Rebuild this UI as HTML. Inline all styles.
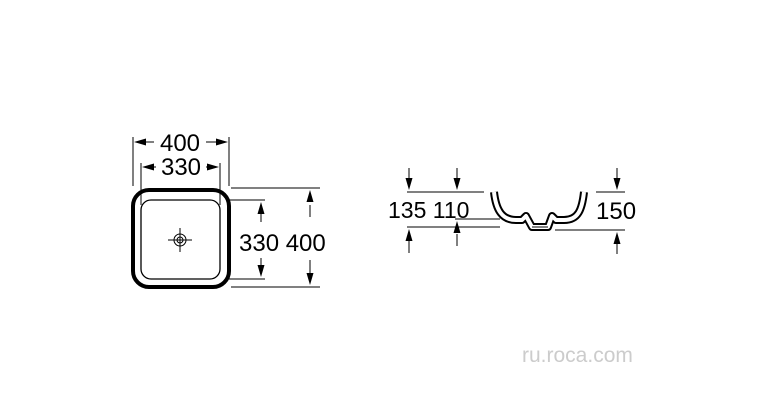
<!DOCTYPE html>
<html><head><style>
body{margin:0;background:#fff;width:761px;height:415px;overflow:hidden}
</style></head><body>
<svg width="761" height="415" xmlns="http://www.w3.org/2000/svg" font-family="Liberation Sans, sans-serif">
<g stroke="#000" stroke-width="1" fill="none">
<!-- top view -->
<rect x="133" y="190" width="96" height="97" rx="16" stroke-width="4"/>
<rect x="141" y="200" width="79" height="79" rx="10" stroke-width="1.3"/>
<circle cx="180" cy="240" r="6"/><circle cx="180" cy="240" r="3"/>
<path d="M168 240H192M180 228V252"/>
<path d="M133 137V186M229 137V186M141 163V205M220 163V205"/>
<path d="M231 188H320M229 200H265M229 279H265M231 287H320"/>
<path d="M140 142H154M222 142H206M148 167H156M213 167H206"/>
<path d="M261 212V222M261 258V268M310 205V217M310 260V275"/>
<!-- side view -->
<path d="M407 192H484M596 192H625M407 227H500M455 219H500M555 230H625"/>
<path d="M409 168V180M457 168V180M617 168V180"/>
<path d="M409 240V253M457 234V246M617 242V254"/>
</g>
<g fill="#000">
<!-- horizontal arrows -->
<polygon points="134,142 146,138.5 146,145.5"/>
<polygon points="228,142 216,138.5 216,145.5"/>
<polygon points="142,167 154,163.5 154,170.5"/>
<polygon points="219,167 207,163.5 207,170.5"/>
<!-- vertical arrows top view -->
<polygon points="261,202 257.5,214 264.5,214"/>
<polygon points="261,277 257.5,265 264.5,265"/>
<polygon points="310,190 306.5,202 313.5,202"/>
<polygon points="310,285 306.5,273 313.5,273"/>
<!-- side view arrows -->
<polygon points="409,190 405.5,178 412.5,178"/>
<polygon points="457,190 453.5,178 460.5,178"/>
<polygon points="617,190 613.5,178 620.5,178"/>
<polygon points="409,229 405.5,241 412.5,241"/>
<polygon points="457,221 453.5,233 460.5,233"/>
<polygon points="617,232 613.5,244 620.5,244"/>
</g>
<g fill="none" stroke-linejoin="round">
<path d="M494 192 C496 210 502 220 516 220 L522 220 L526 216 L532 227 L548 227 L552 216 L556 220 L564 220 C578 220 582 210 584 192" stroke="#000" stroke-width="8"/>
<path d="M494 192 C496 210 502 220 516 220 L522 220 L526 216 L532 227 L548 227 L552 216 L556 220 L564 220 C578 220 582 210 584 192" stroke="#fff" stroke-width="4"/>
</g>
<path d="M532 227 L548 227" stroke="#000" stroke-width="1"/>
<g font-size="24" fill="#000">
<text x="180" y="151" text-anchor="middle">400</text>
<text x="181" y="175" text-anchor="middle">330</text>
<text x="239" y="251">330 400</text>
<text x="388" y="218" font-size="23">135 110</text>
<text x="596" y="219">150</text>
</g>
<text x="522" y="362" font-size="21" fill="#ccc">ru.roca.com</text>
</svg>
</body></html>
